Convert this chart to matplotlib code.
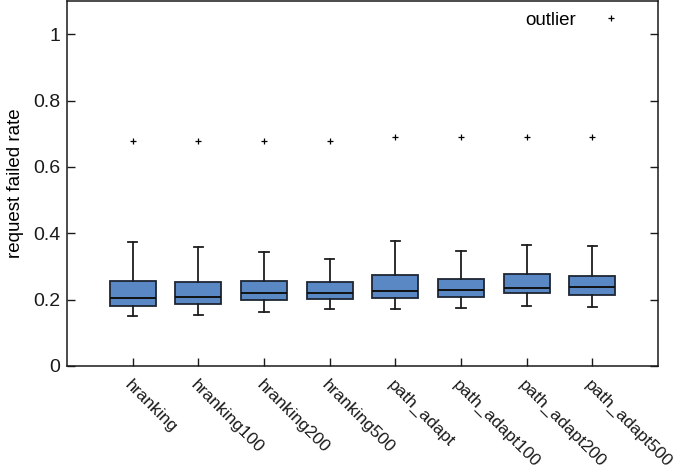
import matplotlib
matplotlib.use("Agg")
import matplotlib.pyplot as plt

categories = ["hranking", "hranking100", "hranking200", "hranking500",
              "path_adapt", "path_adapt100", "path_adapt200", "path_adapt500"]
whisker_low = [0.151, 0.154, 0.163, 0.172, 0.172, 0.175, 0.181, 0.178]
q1 = [0.181, 0.187, 0.199, 0.202, 0.205, 0.208, 0.220, 0.214]
median = [0.205, 0.208, 0.220, 0.220, 0.226, 0.229, 0.235, 0.238]
q3 = [0.256, 0.253, 0.256, 0.253, 0.274, 0.262, 0.277, 0.271]
whisker_high = [0.373, 0.358, 0.343, 0.322, 0.377, 0.346, 0.365, 0.361]
outliers = [0.678, 0.678, 0.678, 0.678, 0.690, 0.690, 0.690, 0.690]
yticks = [0, 0.2, 0.4, 0.6, 0.8, 1.0]
ytick_labels = ["0", "0.2", "0.4", "0.6", "0.8", "1"]

plt.rcParams['font.family'] = ['Liberation Sans', 'DejaVu Sans']

fig = plt.figure(figsize=(6.85, 4.70), dpi=100)
ax = fig.add_axes([0.0978, 0.2213, 0.8628, 0.7766])

stats = []
for i, name in enumerate(categories):
    stats.append(dict(label=name, whislo=whisker_low[i], q1=q1[i], med=median[i],
                      q3=q3[i], whishi=whisker_high[i], fliers=[outliers[i]]))

positions = list(range(1, len(categories) + 1))
ax.bxp(stats, positions=positions, widths=0.70, patch_artist=True,
       boxprops=dict(facecolor="#5a88c5", edgecolor="#1e2633", linewidth=1.3),
       medianprops=dict(color="#111111", linewidth=1.4),
       whiskerprops=dict(color="#1e1e1e", linewidth=1.3),
       capprops=dict(color="#1e1e1e", linewidth=1.3),
       capwidths=0.14,
       flierprops=dict(marker="+", markersize=5, markeredgecolor="black",
                       markeredgewidth=0.9, linestyle="none"))

# legend entry for outliers
ax.plot([], [], marker="+", linestyle="none", color="black", markersize=5,
        markeredgewidth=0.9, label="outlier")
leg = ax.legend(loc="upper right", frameon=False, markerfirst=False,
                prop=dict(size=13.5), handletextpad=0.9, borderaxespad=0.3,
                bbox_to_anchor=(0.975, 1.006))

ax.set_xlim(0, 9)
ax.set_ylim(0, 1.1)
ax.set_xticks(positions)
ax.set_xticklabels(categories, rotation=-45, ha="left", va="top",
                   rotation_mode="anchor", fontsize=12.5)
ax.set_yticks(yticks)
ax.set_yticklabels(ytick_labels, fontsize=14)
ax.set_ylabel("request failed rate", fontsize=13.5, labelpad=6)

ax.tick_params(axis="both", direction="in", length=6, width=1.0,
               top=False, right=True, colors="#1a1a1a")
ax.tick_params(axis="x", pad=8)
ax.tick_params(axis="y", pad=5)
for s in ax.spines.values():
    s.set_linewidth(1.1)
    s.set_color("#1a1a1a")

fig.savefig("out.png", dpi=100)
